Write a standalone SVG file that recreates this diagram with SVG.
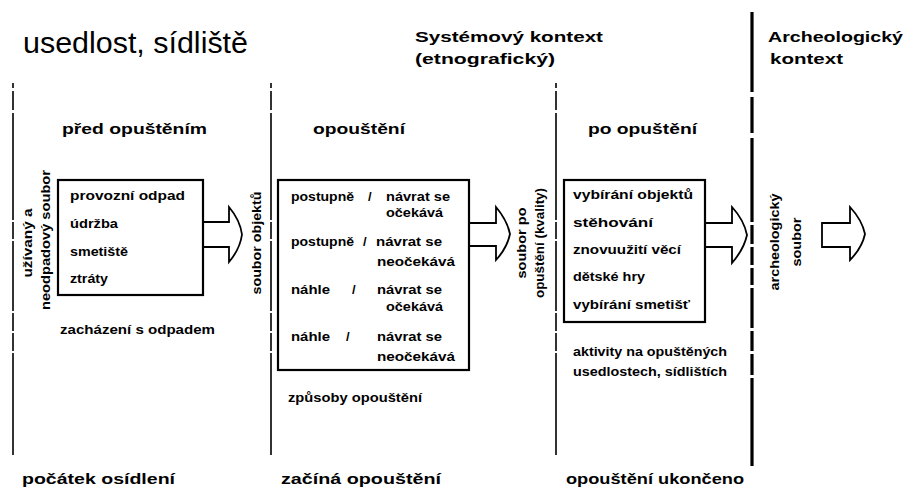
<svg xmlns="http://www.w3.org/2000/svg" width="915" height="491" viewBox="0 0 915 491">
<style>
text{font-family:"Liberation Sans",Arial,sans-serif;fill:#000;}
.t{font-size:13px;font-weight:bold;}
.h{font-size:15px;font-weight:bold;}
.title{font-size:30px;font-weight:normal;}
.box{fill:#fff;stroke:#000;stroke-width:2.2;}
.arrow{fill:#fff;stroke:#000;stroke-width:1.8;stroke-linejoin:miter;}
.div{stroke:#000;stroke-width:1.6;fill:none;stroke-dasharray:5 3 19 3 107 2 17 2 70 2 18 2 18 2 102;}
.thick{stroke:#000;stroke-width:3.2;fill:none;stroke-dasharray:80 5 36 5 84 3 19 3 18 3 17 3 40 3 20 3 21 3 88;}
</style>
<rect width="915" height="491" fill="#fff"/>

<g id="dividers">
<line class="div" x1="13" y1="83" x2="13" y2="455"/>
<line class="div" x1="271" y1="83" x2="271" y2="455"/>
<line class="div" x1="556" y1="83" x2="556" y2="455"/>
<line class="thick" x1="752" y1="12" x2="752" y2="466"/>
</g>

<g id="headers">
<text class="title" x="23" y="53" textLength="225" lengthAdjust="spacingAndGlyphs">usedlost, sídliště</text>
<text class="h" x="415" y="42" textLength="188" lengthAdjust="spacingAndGlyphs">Systémový kontext</text>
<text class="h" x="415" y="64" textLength="140" lengthAdjust="spacingAndGlyphs">(etnografický)</text>
<text class="h" x="768" y="42" textLength="135" lengthAdjust="spacingAndGlyphs">Archeologický</text>
<text class="h" x="770" y="64" textLength="73" lengthAdjust="spacingAndGlyphs">kontext</text>
<text class="h" x="62" y="134" textLength="145" lengthAdjust="spacingAndGlyphs">před opuštěním</text>
<text class="h" x="313" y="134" textLength="92" lengthAdjust="spacingAndGlyphs">opouštění</text>
<text class="h" x="588" y="134" textLength="109" lengthAdjust="spacingAndGlyphs">po opuštění</text>
</g>

<g id="connectors">
<path class="arrow" d="M203,222 H229 V207 Q240,220 242,234.5 Q240,249 229,262 V247 H203 Z"/>
<path class="arrow" d="M469,223 H496 V207 Q507,220 510,234 Q507,248 496,260 V246 H469 Z"/>
<path class="arrow" d="M705,223 H732 V207 Q744,220 747,235 Q744,249 732,263 V247 H705 Z"/>
<path class="arrow" d="M822,223 H850 V207 Q862,220 865,234 Q862,248 850,260 V247 H822 Z"/>
</g>

<g id="soubor-uzivany">
<text class="t" text-anchor="middle" transform="translate(32,243) rotate(-90)" textLength="69" lengthAdjust="spacingAndGlyphs">užívaný a</text>
<text class="t" text-anchor="middle" transform="translate(50,240) rotate(-90)" textLength="140" lengthAdjust="spacingAndGlyphs">neodpadový soubor</text>
</g>

<g id="pred-opustenim">
<rect class="box" x="58" y="180" width="145" height="115"/>
<text class="t" x="70" y="200" textLength="115" lengthAdjust="spacingAndGlyphs">provozní odpad</text>
<text class="t" x="70" y="228" textLength="48" lengthAdjust="spacingAndGlyphs">údržba</text>
<text class="t" x="70" y="256" textLength="58" lengthAdjust="spacingAndGlyphs">smetiště</text>
<text class="t" x="70" y="283" textLength="38" lengthAdjust="spacingAndGlyphs">ztráty</text>
<text class="t" x="60" y="334" textLength="155" lengthAdjust="spacingAndGlyphs">zacházení s odpadem</text>
</g>

<g id="soubor-objektu">
<text class="t" text-anchor="middle" transform="translate(261,243) rotate(-90)" textLength="103" lengthAdjust="spacingAndGlyphs">soubor objektů</text>
</g>

<g id="opousteni">
<rect class="box" x="278" y="180" width="191" height="190"/>
<text class="t" x="291" y="201" textLength="63" lengthAdjust="spacingAndGlyphs">postupně</text>
<text class="t" x="368" y="201">/</text>
<text class="t" x="386" y="201" textLength="64" lengthAdjust="spacingAndGlyphs">návrat se</text>
<text class="t" x="386" y="217" textLength="57" lengthAdjust="spacingAndGlyphs">očekává</text>
<text class="t" x="291" y="246" textLength="63" lengthAdjust="spacingAndGlyphs">postupně</text>
<text class="t" x="363" y="246">/</text>
<text class="t" x="376" y="246" textLength="66" lengthAdjust="spacingAndGlyphs">návrat se</text>
<text class="t" x="377" y="266" textLength="78" lengthAdjust="spacingAndGlyphs">neočekává</text>
<text class="t" x="291" y="294" textLength="39" lengthAdjust="spacingAndGlyphs">náhle</text>
<text class="t" x="352" y="294">/</text>
<text class="t" x="377" y="294" textLength="65" lengthAdjust="spacingAndGlyphs">návrat se</text>
<text class="t" x="386" y="311" textLength="57" lengthAdjust="spacingAndGlyphs">očekává</text>
<text class="t" x="291" y="341" textLength="39" lengthAdjust="spacingAndGlyphs">náhle</text>
<text class="t" x="346" y="341">/</text>
<text class="t" x="377" y="341" textLength="65" lengthAdjust="spacingAndGlyphs">návrat se</text>
<text class="t" x="377" y="361" textLength="78" lengthAdjust="spacingAndGlyphs">neočekává</text>
<text class="t" x="288" y="402" textLength="134" lengthAdjust="spacingAndGlyphs">způsoby opouštění</text>
</g>

<g id="soubor-po-opusteni">
<text class="t" text-anchor="middle" transform="translate(526,243) rotate(-90)" textLength="71" lengthAdjust="spacingAndGlyphs">soubor po</text>
<text class="t" text-anchor="middle" transform="translate(544,243) rotate(-90)" textLength="110" lengthAdjust="spacingAndGlyphs">opuštění (kvality)</text>
</g>

<g id="po-opusteni">
<rect class="box" x="564" y="180" width="141" height="142"/>
<text class="t" x="573" y="199" textLength="120" lengthAdjust="spacingAndGlyphs">vybírání objektů</text>
<text class="t" x="573" y="227" textLength="80" lengthAdjust="spacingAndGlyphs">stěhování</text>
<text class="t" x="573" y="254" textLength="108" lengthAdjust="spacingAndGlyphs">znovuužití věcí</text>
<text class="t" x="573" y="281" textLength="72" lengthAdjust="spacingAndGlyphs">dětské hry</text>
<text class="t" x="573" y="309" textLength="117" lengthAdjust="spacingAndGlyphs">vybírání smetišť</text>
<text class="t" x="573" y="356" textLength="154" lengthAdjust="spacingAndGlyphs">aktivity na opuštěných</text>
<text class="t" x="573" y="376" textLength="154" lengthAdjust="spacingAndGlyphs">usedlostech, sídlištích</text>
</g>

<g id="archeologicky-soubor">
<text class="t" text-anchor="middle" transform="translate(779,242) rotate(-90)" textLength="97" lengthAdjust="spacingAndGlyphs">archeologický</text>
<text class="t" text-anchor="middle" transform="translate(801,242) rotate(-90)" textLength="49" lengthAdjust="spacingAndGlyphs">soubor</text>
</g>

<g id="timeline">
<text class="h" x="22" y="484" textLength="153" lengthAdjust="spacingAndGlyphs">počátek osídlení</text>
<text class="h" x="281" y="484" textLength="160" lengthAdjust="spacingAndGlyphs">začíná opouštění</text>
<text class="h" x="566" y="484" textLength="178" lengthAdjust="spacingAndGlyphs">opouštění ukončeno</text>
</g>
</svg>
